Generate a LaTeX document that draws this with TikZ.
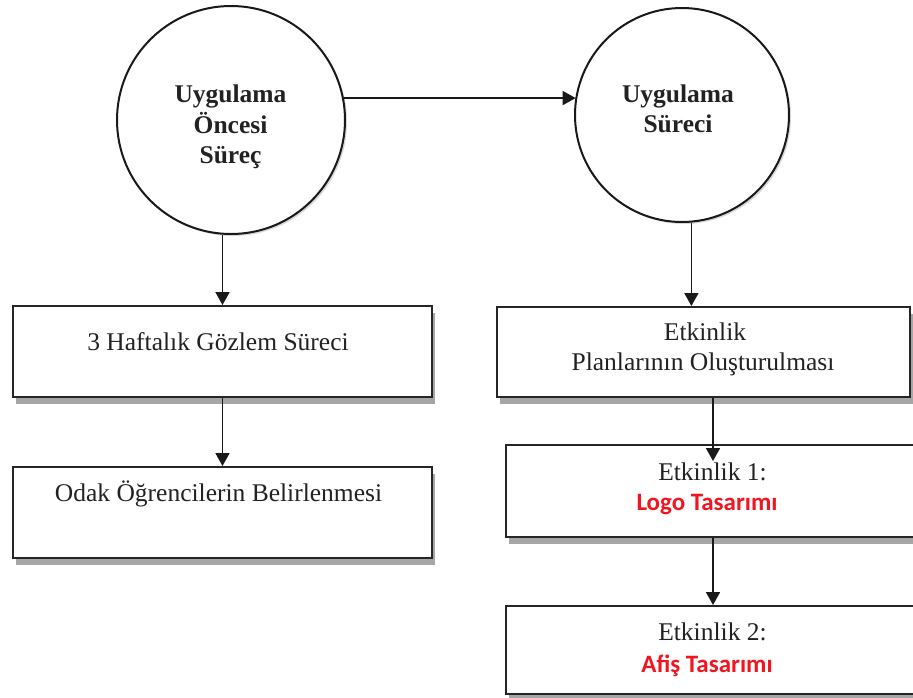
\documentclass[tikz,border=0pt]{standalone}
\usepackage{fontspec}
\setmainfont{Liberation Serif}
\newfontfamily\redfont{Carlito}
\usetikzlibrary{arrows.meta,shadows}
\definecolor{txt}{HTML}{222222}
\definecolor{redtxt}{HTML}{F2141E}
\tikzset{
  boxnode/.style={draw=black!85, line width=2pt, fill=white, rectangle, inner sep=0pt,
    drop shadow={shadow xshift=3pt, shadow yshift=-7pt, fill=black!35, opacity=1}},
  circnode/.style={draw=black!90, line width=2pt, fill=white, circle, inner sep=0pt,
    drop shadow={shadow xshift=2pt, shadow yshift=-2pt, fill=black!25, opacity=0.6}},
  lbl/.style={anchor=base, inner sep=0pt, text=txt, font=\fontsize{25.5}{30}\selectfont},
  blbl/.style={anchor=base, inner sep=0pt, text=txt, font=\fontsize{25.5}{30}\selectfont\bfseries},
  rlbl/.style={anchor=base, inner sep=0pt, text=redtxt, font=\fontsize{25}{30}\selectfont\redfont\bfseries},
  arr/.style={line width=1.8pt, draw=black!90, -{Triangle[length=13pt,width=14pt]}}
}
\begin{document}
\begin{tikzpicture}[x=1pt,y=-1pt]
\clip (0,0) rectangle (913,697);
\fill[white] (0,0) rectangle (913,697);
% circles
\node[circnode, minimum size=228pt] (c1) at (231,120) {};
\node[circnode, minimum size=214pt] (c2) at (682,115) {};
% boxes
\node[boxnode, minimum width=419pt, minimum height=91pt] (lb1) at (222.5,351.5) {};
\node[boxnode, minimum width=419pt, minimum height=91pt] (lb2) at (222.5,512.5) {};
\node[boxnode, minimum width=413pt, minimum height=90pt] (rb1) at (703.5,352) {};
\node[boxnode, minimum width=414pt, minimum height=92pt] (rb2) at (713,491) {};
\node[boxnode, minimum width=414pt, minimum height=88pt] (rb3) at (713,650) {};
% circle texts
\node[blbl] (t1a) at (230.5,102) {Uygulama};
\node[blbl] (t1b) at (230.5,133) {Öncesi};
\node[blbl] (t1c) at (230.5,163) {Süreç};
\node[blbl] (t2a) at (678,102) {Uygulama};
\node[blbl] (t2b) at (678,132) {Süreci};
% box texts
\node[lbl] (tl1) at (218,350) {3 Haftalık Gözlem Süreci};
\node[lbl] (tl2) at (218.5,501) {Odak Öğrencilerin Belirlenmesi};
\node[lbl] (tr1a) at (705,340) {Etkinlik};
\node[lbl] (tr1b) at (703,370) {Planlarının Oluşturulması};
\node[lbl] (tr2a) at (712.5,480) {Etkinlik 1:};
\node[rlbl] (tr2b) at (707,510) {Logo Tasarımı};
\node[lbl] (tr3a) at (712.5,640) {Etkinlik 2:};
\node[rlbl] (tr3b) at (707,672) {Afiş Tasarımı};
% connectors
\draw[arr] (c1.11.6) -- (c1.11.6 -| c2.170.3);
\draw[arr] (c1.south -| lb1.north) -- (lb1.north);
\draw[arr] (c2.-85.7) -- (c2.-85.7 |- rb1.north);
\draw[arr] (rb1.south -| rb2.north) -- ([yshift=-17pt]rb2.north);
\draw[arr] (rb2.south) -- (rb3.north);
\draw[arr] (lb1.south) -- (lb2.north);
\end{tikzpicture}
\end{document}
